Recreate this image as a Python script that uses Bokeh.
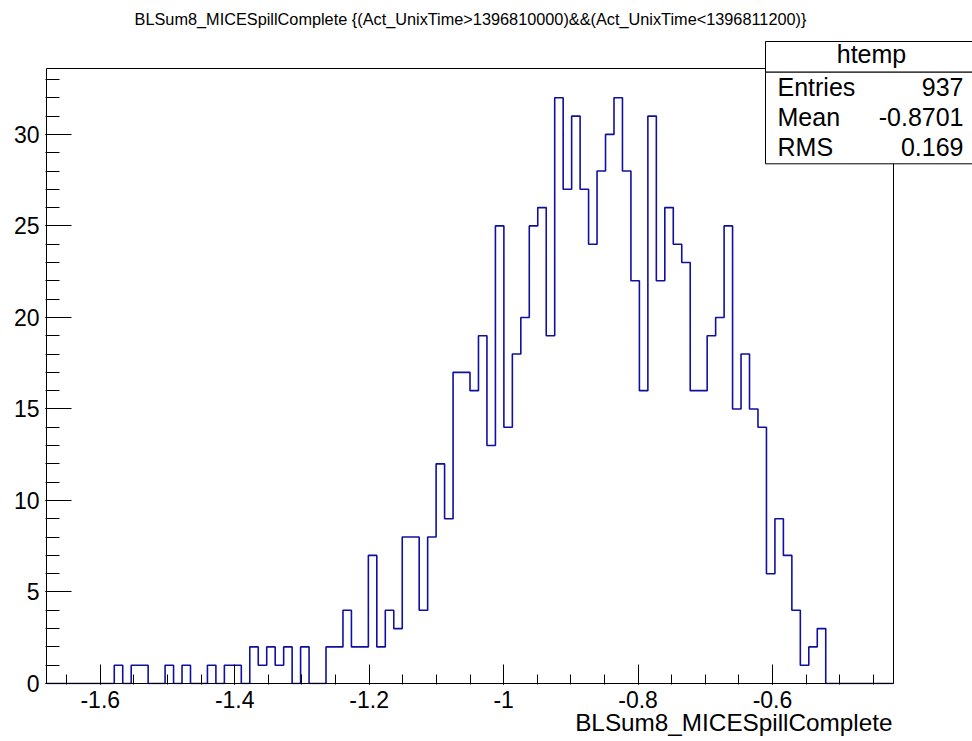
from bokeh.plotting import figure
from bokeh.models import FixedTicker, Label, BoxAnnotation
from bokeh.embed import file_html
from bokeh.resources import INLINE

# ---------------- data ----------------
title_text = "BLSum8_MICESpillComplete {(Act_UnixTime>1396810000)&&(Act_UnixTime<1396811200)}"
x_title = "BLSum8_MICESpillComplete"
x_min, x_max = -1.68, -0.42
n_bins = 100
counts = ([0] * 8
          + [1, 0, 1, 1, 0, 0, 1, 0, 1, 0, 0, 1, 0, 1, 1, 0]
          + [2, 1, 2, 1, 2, 0, 2, 0, 0, 2, 2, 4, 2, 2, 7, 2, 4, 3, 8, 8, 4, 8, 12, 9,
             17, 17, 16, 19, 13, 25, 14, 18, 20, 25, 26, 19, 32, 27, 31, 27, 24, 28,
             30, 32, 28, 22, 16, 31, 22, 26, 24, 23, 16, 16, 19, 20, 25, 15, 18, 15,
             14, 6, 9, 7, 4, 1, 2, 3]
          + [0] * 8)
assert len(counts) == n_bins, len(counts)

x_tick_values = [-1.6, -1.4, -1.2, -1.0, -0.8, -0.6]
x_tick_labels = ["-1.6", "-1.4", "-1.2", "-1", "-0.8", "-0.6"]
x_minor_ticks = [-1.65, -1.6, -1.55, -1.5, -1.45, -1.4, -1.35, -1.3, -1.25, -1.2, -1.15,
                 -1.1, -1.05, -1.0, -0.95, -0.9, -0.85, -0.8, -0.75, -0.7, -0.65, -0.6,
                 -0.55, -0.5, -0.45]
y_tick_values = [0, 5, 10, 15, 20, 25, 30]
y_minor_ticks = list(range(0, 34))
y_max = 33.6

stats_name = "htemp"
stats_labels = ["Entries", "Mean", "RMS"]
stats_values = ["937", "-0.8701", "0.169"]

# ---------------- layout (canvas pixels) ----------------
W, H = 972, 741
HL, HT, HR, HB = 46, 68, 893, 683      # histogram frame box
FL, FT, FR, FB = 45, 40, 972, 684      # bokeh plotting frame (larger, holds stats box)
px_x = (HR - HL) / (x_max - x_min)
px_y = (HB - HT) / y_max

p = figure(width=W, height=H,
           x_range=(x_min - (HL - FL) / px_x, x_max + (FR - HR) / px_x),
           y_range=(0 - (FB - HB) / px_y, y_max + (HT - FT) / px_y),
           output_backend="svg", toolbar_location=None,
           min_border_left=FL, min_border_top=FT,
           min_border_right=W - FR, min_border_bottom=H - FB)
p.outline_line_color = None
p.xgrid.visible = False
p.ygrid.visible = False
p.background_fill_color = "white"
p.border_fill_color = "white"

FONT = "Liberation Sans"

edges = [x_min + i * (x_max - x_min) / n_bins for i in range(n_bins + 1)]
p.step(x=edges, y=counts + [0], mode="after", line_color="#1010a0", line_width=1.6)
# histogram frame
p.quad(left=[x_min], right=[x_max], bottom=[0], top=[y_max],
       fill_color=None, line_color="black", line_width=1)

xa = p.xaxis[0]
xa.ticker = FixedTicker(ticks=x_tick_values, minor_ticks=x_minor_ticks)
xa.major_label_overrides = dict(zip(x_tick_values, x_tick_labels))
xa.major_tick_in = 20
xa.major_tick_out = 0
xa.minor_tick_in = 10
xa.minor_tick_out = 0
xa.major_label_standoff = 6

ya = p.yaxis[0]
ya.ticker = FixedTicker(ticks=y_tick_values, minor_ticks=y_minor_ticks)
ya.major_tick_in = 26
ya.major_tick_out = 0
ya.minor_tick_in = 14
ya.minor_tick_out = 0
ya.major_label_standoff = 6

for ax in (xa, ya):
    ax.axis_line_color = None
    ax.major_tick_line_color = "black"
    ax.minor_tick_line_color = "black"
    ax.major_label_text_font = FONT
    ax.major_label_text_font_size = "23px"
    ax.major_label_text_color = "black"


def lab(x, baseline, text, align, size):
    # empirical shift so that the glyph baseline lands on `baseline`
    return Label(x=x, y=baseline - 0.42 * size, x_units="canvas", y_units="canvas",
                 text=text, text_align=align, text_baseline="alphabetic",
                 text_font=FONT, text_font_size=f"{size}px", text_color="black")


p.add_layout(lab(470, 25, title_text, "center", 16.3), "above")
p.add_layout(lab(892, 732.5, x_title, "right", 24.3), "below")

# stats box (screen units: relative to plotting frame, y up)
for top, bottom in ((41, 71.7), (71.7, 163.3)):
    p.add_layout(BoxAnnotation(left=765 - FL, right=990 - FL, top=FB - top, bottom=FB - bottom,
                               left_units="screen", right_units="screen",
                               top_units="screen", bottom_units="screen",
                               fill_color="white", fill_alpha=1.0,
                               line_color="black", line_width=1, line_alpha=1.0))

p.add_layout(lab(871, 64.3, stats_name, "center", 25))
for i, (name, val) in enumerate(zip(stats_labels, stats_values)):
    base = 96.7 + i * 30
    p.add_layout(lab(777, base, name, "left", 25))
    p.add_layout(lab(963, base, val, "right", 25))

open("out.html", "w").write(file_html(p, INLINE))
